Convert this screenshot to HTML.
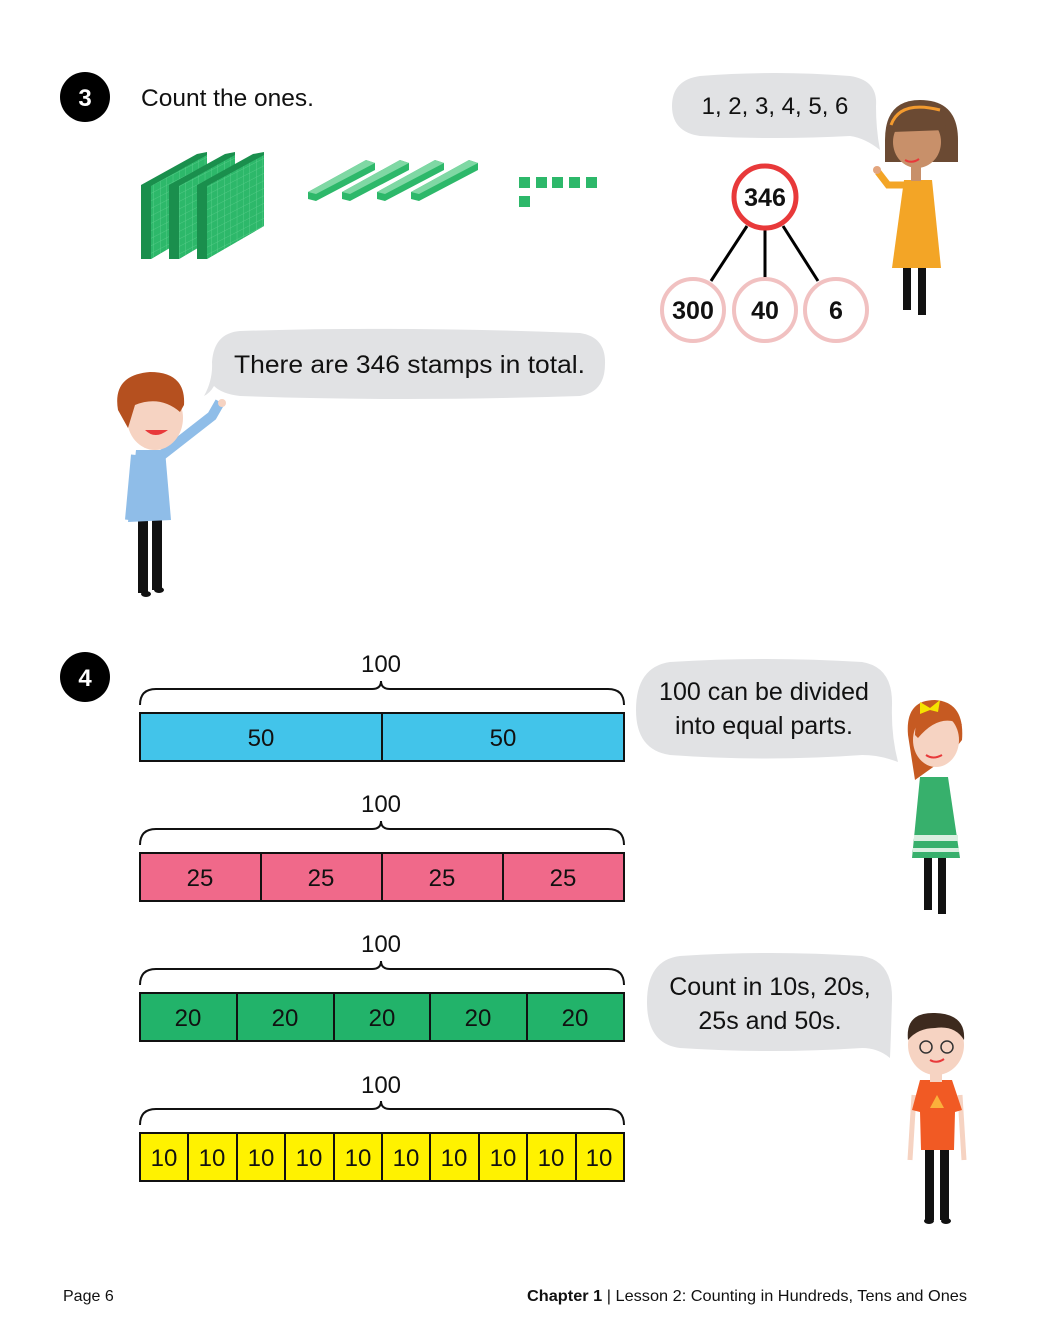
<!DOCTYPE html>
<html><head><meta charset="utf-8"><style>
html,body{margin:0;padding:0;background:#fff}
svg{display:block}
text{font-family:"Liberation Sans",sans-serif}
</style></head><body>
<svg width="1040" height="1330" viewBox="0 0 1040 1330" xmlns="http://www.w3.org/2000/svg">
<defs>
<pattern id="grid" width="6.4" height="7.5" patternUnits="userSpaceOnUse" patternTransform="skewY(-27)">
<rect width="6.4" height="7.5" fill="#2db86a"/><path d="M0 0H6.4M0 0V7.5" stroke="#5fd08f" stroke-width="0.8"/>
</pattern>
</defs>

<circle cx="85" cy="97" r="25" fill="#000"/>
<text x="85" y="106" font-size="24" font-weight="bold" fill="#fff" text-anchor="middle">3</text>
<text x="141" y="106" font-size="24.5" fill="#111">Count the ones.</text>

<g>
<polygon points="141,185 197,154 207,152 207,226 151,259 141,259" fill="#1a8f4d"/>
<polygon points="151,186 207,155 207,226 151,259" fill="url(#grid)"/>
<polygon points="169,185 225,154 235,152 235,226 179,259 169,259" fill="#1a8f4d"/>
<polygon points="179,186 235,155 235,226 179,259" fill="url(#grid)"/>
<polygon points="197,185 253,154 264,152 264,226 207,259 197,259" fill="#1a8f4d"/>
<polygon points="207,186 264,155 264,226 207,259" fill="url(#grid)"/>
</g>
<g>
<polygon points="308,192 366,160 375,163 375,170 316,201 308,199" fill="#2db86a"/>
<polygon points="308,192 366,160 375,163 316,194" fill="#7fd8a4"/>
<polygon points="342,192 400,160 409,163 409,170 350,201 342,199" fill="#2db86a"/>
<polygon points="342,192 400,160 409,163 350,194" fill="#7fd8a4"/>
<polygon points="377,192 435,160 444,163 444,170 385,201 377,199" fill="#2db86a"/>
<polygon points="377,192 435,160 444,163 385,194" fill="#7fd8a4"/>
<polygon points="411,192 469,160 478,163 478,170 419,201 411,199" fill="#2db86a"/>
<polygon points="411,192 469,160 478,163 419,194" fill="#7fd8a4"/>
</g>
<g fill="#2db86a">
<rect x="519" y="177" width="11" height="11"/><rect x="536" y="177" width="11" height="11"/><rect x="552" y="177" width="11" height="11"/><rect x="569" y="177" width="11" height="11"/><rect x="586" y="177" width="11" height="11"/><rect x="519" y="196" width="11" height="11"/>
</g>

<path d="M700,76 Q775,70 850,76 Q878,80 876,106 Q876,130 880,150 Q865,138 850,136 Q775,140 700,136 Q672,132 672,106 Q672,80 700,76Z" fill="#e1e2e4"/>
<text x="775" y="114" font-size="24" fill="#111" text-anchor="middle">1, 2, 3, 4, 5, 6</text>

<g stroke="#000" stroke-width="3">
<line x1="747" y1="226" x2="711" y2="281"/><line x1="765" y1="229" x2="765" y2="278"/><line x1="783" y1="226" x2="818" y2="281"/>
</g>
<circle cx="765" cy="197" r="31" fill="#fff" stroke="#e8393a" stroke-width="5"/>
<circle cx="693" cy="310" r="31" fill="#fff" stroke="#f1c1c1" stroke-width="4"/>
<circle cx="765" cy="310" r="31" fill="#fff" stroke="#f1c1c1" stroke-width="4"/>
<circle cx="836" cy="310" r="31" fill="#fff" stroke="#f1c1c1" stroke-width="4"/>
<g font-size="25" font-weight="bold" text-anchor="middle" fill="#111">
<text x="765" y="206">346</text><text x="693" y="319">300</text><text x="765" y="319">40</text><text x="836" y="319">6</text>
</g>

<g>
<rect x="903" y="260" width="8" height="50" fill="#111"/><rect x="918" y="260" width="8" height="55" fill="#111"/>
<polygon points="904,180 932,180 941,268 892,268" fill="#f3a526"/>
<path d="M904,185 L888,185 L878,172" stroke="#f3a526" stroke-width="7" fill="none"/>
<circle cx="877" cy="170" r="4" fill="#e3a57e"/>
<rect x="911" y="165" width="10" height="16" fill="#c8906a"/>
<path d="M885,140 Q885,100 920,100 Q958,100 958,140 L958,162 L885,162Z" fill="#6b4a33"/>
<ellipse cx="917" cy="142" rx="24" ry="26" fill="#c8906a"/>
<path d="M892,132 Q895,105 920,106 Q944,108 946,130 Z" fill="#6b4a33"/>
<path d="M891,125 Q900,100 940,110" stroke="#f39a2e" stroke-width="3" fill="none"/>
<path d="M905,160 Q912,164 919,159" stroke="#e8393a" stroke-width="2" fill="none"/>
</g>

<path d="M240,331 Q400,326 580,333 Q606,337 605,364 Q605,392 580,396 Q400,402 240,396 Q222,394 214,386 Q210,393 204,396 Q213,380 212,362 Q214,333 240,331Z" fill="#e1e2e4"/>
<text x="234" y="373" font-size="25" fill="#111" textLength="351" lengthAdjust="spacingAndGlyphs">There are 346 stamps in total.</text>

<g>
<rect x="138" y="515" width="10" height="78" fill="#111"/><rect x="152" y="515" width="10" height="75" fill="#111"/>
<ellipse cx="146" cy="594" rx="5" ry="3" fill="#111"/><ellipse cx="159" cy="590" rx="5" ry="3" fill="#111"/>
<polygon points="136,450 165,450 171,520 128,522" fill="#8fbde8"/>
<path d="M162,455 L212,416 L220,402" stroke="#8fbde8" stroke-width="10" fill="none"/>
<path d="M136,455 L130,520" stroke="#8fbde8" stroke-width="10" fill="none"/>
<circle cx="222" cy="403" r="4" fill="#f6d3c2"/>
<ellipse cx="155" cy="418" rx="28" ry="32" fill="#f6d3c2"/>
<path d="M118,410 Q112,375 150,372 Q186,372 184,405 L180,412 Q160,395 135,405 L128,428 Z" fill="#b5501f"/>
<path d="M145,430 Q155,440 168,430 Z" fill="#e8393a"/>
</g>

<circle cx="85" cy="677" r="25" fill="#000"/>
<text x="85" y="686" font-size="24" font-weight="bold" fill="#fff" text-anchor="middle">4</text>

<g fill="none" stroke="#111" stroke-width="2">
<path d="M140,705 Q140,689 156,689 L372,689 Q381,689 381,681 Q381,689 390,689 L608,689 Q624,689 624,705"/>
<path d="M140,845 Q140,829 156,829 L372,829 Q381,829 381,821 Q381,829 390,829 L608,829 Q624,829 624,845"/>
<path d="M140,985 Q140,969 156,969 L372,969 Q381,969 381,961 Q381,969 390,969 L608,969 Q624,969 624,985"/>
<path d="M140,1125 Q140,1109 156,1109 L372,1109 Q381,1109 381,1101 Q381,1109 390,1109 L608,1109 Q624,1109 624,1125"/>
</g>
<g font-size="24" fill="#111" text-anchor="middle">
<text x="381" y="672">100</text><text x="381" y="812">100</text><text x="381" y="952">100</text><text x="381" y="1093">100</text>
</g>

<g stroke="#111" stroke-width="2">
<rect x="140" y="713" width="484" height="48" fill="#42c4ea"/>
<line x1="382" y1="713" x2="382" y2="761"/>
<rect x="140" y="853" width="484" height="48" fill="#f0698a"/>
<line x1="261" y1="853" x2="261" y2="901"/><line x1="382" y1="853" x2="382" y2="901"/><line x1="503" y1="853" x2="503" y2="901"/>
<rect x="140" y="993" width="484" height="48" fill="#22b36a"/>
<line x1="237" y1="993" x2="237" y2="1041"/><line x1="334" y1="993" x2="334" y2="1041"/><line x1="430" y1="993" x2="430" y2="1041"/><line x1="527" y1="993" x2="527" y2="1041"/>
<rect x="140" y="1133" width="484" height="48" fill="#fff200"/>
<line x1="188" y1="1133" x2="188" y2="1181"/><line x1="237" y1="1133" x2="237" y2="1181"/><line x1="285" y1="1133" x2="285" y2="1181"/><line x1="334" y1="1133" x2="334" y2="1181"/><line x1="382" y1="1133" x2="382" y2="1181"/><line x1="430" y1="1133" x2="430" y2="1181"/><line x1="479" y1="1133" x2="479" y2="1181"/><line x1="527" y1="1133" x2="527" y2="1181"/><line x1="576" y1="1133" x2="576" y2="1181"/>
</g>
<g font-size="24" fill="#111" text-anchor="middle">
<text x="261" y="746">50</text><text x="503" y="746">50</text>
<text x="200" y="886">25</text><text x="321" y="886">25</text><text x="442" y="886">25</text><text x="563" y="886">25</text>
<text x="188" y="1026">20</text><text x="285" y="1026">20</text><text x="382" y="1026">20</text><text x="478" y="1026">20</text><text x="575" y="1026">20</text>
<text x="164" y="1166">10</text><text x="212" y="1166">10</text><text x="261" y="1166">10</text><text x="309" y="1166">10</text><text x="358" y="1166">10</text><text x="406" y="1166">10</text><text x="454" y="1166">10</text><text x="503" y="1166">10</text><text x="551" y="1166">10</text><text x="599" y="1166">10</text>
</g>

<path d="M670,662 Q765,656 862,662 Q893,667 892,705 Q891,735 898,762 Q880,755 862,755 Q765,762 670,755 Q636,750 636,710 Q636,667 670,662Z" fill="#e1e2e4"/>
<g font-size="25" fill="#111" text-anchor="middle"><text x="764" y="700">100 can be divided</text><text x="764" y="734">into equal parts.</text></g>

<g>
<rect x="924" y="858" width="8" height="52" fill="#111"/><rect x="938" y="858" width="8" height="56" fill="#111"/>
<polygon points="920,777 948,777 960,858 912,858" fill="#37b06c"/>
<rect x="914" y="835" width="44" height="6" fill="#d9efe0"/><rect x="913" y="848" width="46" height="4" fill="#d9efe0"/>
<path d="M908,735 Q905,700 935,700 Q965,702 962,740 L950,755 L915,780 Z" fill="#c65a22"/>
<ellipse cx="936" cy="740" rx="23" ry="27" fill="#f6d3c2"/>
<path d="M915,735 Q915,708 938,708 Q955,710 962,725 Q940,712 918,738Z" fill="#c65a22"/>
<polygon points="920,702 930,708 940,700 938,712 930,710 920,714" fill="#f5e300"/>
<path d="M926,755 Q933,760 942,755" stroke="#e8393a" stroke-width="2" fill="none"/>
</g>

<path d="M680,956 Q770,950 862,956 Q893,961 892,1000 Q891,1035 890,1058 Q878,1048 862,1048 Q770,1054 680,1048 Q647,1044 647,1002 Q647,960 680,956Z" fill="#e1e2e4"/>
<g font-size="25" fill="#111" text-anchor="middle"><text x="770" y="995">Count in 10s, 20s,</text><text x="770" y="1029">25s and 50s.</text></g>

<g>
<rect x="925" y="1148" width="9" height="72" fill="#111"/><rect x="940" y="1148" width="9" height="72" fill="#111"/>
<ellipse cx="929" cy="1221" rx="5" ry="3" fill="#111"/><ellipse cx="946" cy="1221" rx="5" ry="3" fill="#111"/>
<path d="M914,1095 L910,1160 M960,1095 L964,1160" stroke="#f6d3c2" stroke-width="5" fill="none"/>
<polygon points="920,1080 952,1080 962,1110 955,1112 954,1150 921,1150 920,1112 912,1110" fill="#f15a24"/>
<polygon points="937,1095 944,1108 930,1108" fill="#fbb03b"/>
<rect x="930" y="1068" width="12" height="14" fill="#f6d3c2"/>
<ellipse cx="936" cy="1045" rx="28" ry="30" fill="#f6d3c2"/>
<path d="M908,1040 Q905,1012 935,1013 Q966,1014 964,1040 Q955,1025 935,1028 Q918,1028 908,1040Z" fill="#3d2a1e"/>
<circle cx="926" cy="1047" r="6" fill="none" stroke="#333" stroke-width="1.5"/><circle cx="947" cy="1047" r="6" fill="none" stroke="#333" stroke-width="1.5"/>
<path d="M930,1060 Q937,1064 944,1059" stroke="#e8393a" stroke-width="2" fill="none"/>
</g>

<text x="63" y="1301" font-size="16" fill="#111">Page 6</text>
<text x="527" y="1301" font-size="16" fill="#111" textLength="440" lengthAdjust="spacingAndGlyphs"><tspan font-weight="bold">Chapter 1</tspan> | Lesson 2: Counting in Hundreds, Tens and Ones</text>
</svg>
</body></html>
